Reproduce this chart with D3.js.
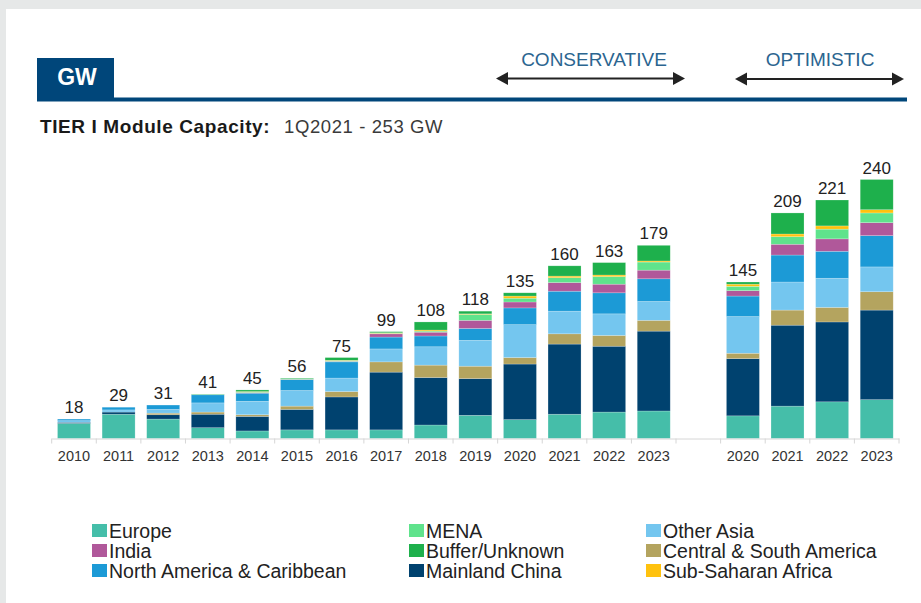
<!DOCTYPE html>
<html>
<head>
<meta charset="utf-8">
<script src="https://cdn.jsdelivr.net/npm/d3@7"></script>
<style>
  html, body { margin: 0; padding: 0; background: #e6e8e8; }
  svg { display: block; }
</style>
</head>
<body>
<svg id="chart" width="921" height="603"></svg>
<script>
// ---------- DATA ----------
const categories = ["2010","2011","2012","2013","2014","2015","2016","2017","2018","2019",
                    "2020c","2021c","2022c","2023c","gap","2020o","2021o","2022o","2023o"];
const tickLabels = ["2010","2011","2012","2013","2014","2015","2016","2017","2018","2019",
                    "2020","2021","2022","2023","","2020","2021","2022","2023"];
const barKeys = categories.filter(c => c !== "gap");
const totals = [18, 29, 31, 41, 45, 56, 75, 99, 108, 118, 135, 160, 163, 179, 145, 209, 221, 240];

// stacked bottom -> top
const seriesNames = ["Europe","Mainland China","Central & South America","Other Asia",
                     "North America & Caribbean","India","MENA","Sub-Saharan Africa","Buffer/Unknown"];
const europe   = [14, 22.5, 18, 10, 7, 8, 8, 8, 12.5, 21.5, 17.5, 22.5, 24.5, 25.5, 21, 30, 34, 36];
const china    = [1, 2, 4, 12.5, 13.5, 19, 30.5, 53.5, 44, 34, 51.5, 65, 61, 74, 53, 75, 74, 83];
const csAmerica= [0, 0, 1.5, 2, 1.5, 3, 5, 9.5, 11.5, 11.5, 6, 9.5, 10, 10, 5, 14, 13.5, 17];
const otherAsia= [1.5, 2, 3.5, 8.5, 12.5, 14.5, 12.5, 12, 17, 24, 30.5, 21, 20, 17.5, 34, 26, 27, 23];
const nAmerica = [1.5, 2.5, 4, 7.5, 7.5, 10, 15, 11, 10, 11, 15.5, 18.5, 19.5, 21, 19, 25, 25, 29];
const india    = [0, 0, 0, 0, 0.5, 0.3, 0.5, 3, 3.5, 7.5, 5.5, 8, 8, 8, 5, 10, 11.5, 12];
const mena     = [0, 0, 0, 0, 0.5, 0.7, 0.5, 0.5, 1, 5.5, 3.5, 4.5, 7, 7.5, 4, 7, 9, 9];
const ssAfrica = [0, 0, 0, 0, 0.5, 0, 0.5, 0.5, 1, 0.5, 2, 1.5, 1.5, 1, 2, 2.5, 3, 3];
const buffer   = [0, 0, 0, 0.5, 1.5, 0.5, 2.5, 1, 7.5, 2.5, 3, 9.5, 11.5, 14.5, 2, 19.5, 24, 28];
const seriesValues = [europe, china, csAmerica, otherAsia, nAmerica, india, mena, ssAfrica, buffer];
const seriesColors = ["#45bea9","#00426f","#b4a45f","#74c6ef","#1c9ad6","#b0589a","#5fe38c","#ffc20e","#1eb04c"];

const legendCols = [
  ["Europe","India","North America & Caribbean"],
  ["MENA","Buffer/Unknown","Mainland China"],
  ["Other Asia","Central & South America","Sub-Saharan Africa"]
];

// ---------- DRAW ----------
const svg = d3.select("#chart");
svg.append("rect").attr("x",0).attr("y",0).attr("width",921).attr("height",603).attr("fill","#e6e8e8");
svg.append("rect").attr("x",6).attr("y",9).attr("width",915).attr("height",594).attr("fill","#ffffff");

const navy = "#00467a";
// header
svg.append("rect").attr("x",37).attr("y",58).attr("width",77).attr("height",42).attr("fill",navy);
svg.append("rect").attr("x",37).attr("y",97.5).attr("width",870).attr("height",4).attr("fill",navy);
svg.append("text").attr("x",77).attr("y",85).attr("text-anchor","middle")
  .attr("font-family","Liberation Sans, Arial, sans-serif").attr("font-weight","bold")
  .attr("font-size",23).attr("fill","#fff").text("GW");

const hdrBlue = "#2b6590";
svg.append("text").attr("x",594).attr("y",66).attr("text-anchor","middle")
  .attr("font-family","Liberation Sans, Arial, sans-serif").attr("font-size",19)
  .attr("fill",hdrBlue).text("CONSERVATIVE");
svg.append("text").attr("x",820).attr("y",66).attr("text-anchor","middle")
  .attr("font-family","Liberation Sans, Arial, sans-serif").attr("font-size",19)
  .attr("fill",hdrBlue).text("OPTIMISTIC");

function arrow(x1, x2, y) {
  const g = svg.append("g").attr("fill","#222").attr("stroke","#222");
  g.append("line").attr("x1",x1+6).attr("x2",x2-6).attr("y1",y).attr("y2",y).attr("stroke-width",2);
  g.append("path").attr("stroke","none").attr("d",`M${x1},${y} L${x1+12},${y-6.5} L${x1+12},${y+6.5} Z`);
  g.append("path").attr("stroke","none").attr("d",`M${x2},${y} L${x2-12},${y-6.5} L${x2-12},${y+6.5} Z`);
}
arrow(496, 685, 78.5);
arrow(735, 904, 79);

svg.append("text").attr("x",40).attr("y",133)
  .attr("font-family","Liberation Sans, Arial, sans-serif").attr("font-size",19)
  .attr("letter-spacing","0.6px").attr("fill","#1a1a1a").attr("font-weight","bold")
  .text("TIER I Module Capacity:");
svg.append("text").attr("x",284).attr("y",133)
  .attr("font-family","Liberation Sans, Arial, sans-serif").attr("font-size",18.5)
  .attr("letter-spacing","0.6px").attr("fill","#3a3a3a")
  .text("1Q2021 - 253 GW");

// scales
const x = d3.scaleBand().domain(categories).range([51.7, 899]).paddingInner(0.26).paddingOuter(0.13);
const y = d3.scaleLinear().domain([0, 240]).range([438.5, 179.5]);

// stack
const rows = barKeys.map((k, i) => {
  const r = { key: k };
  seriesNames.forEach((s, j) => r[s] = seriesValues[j][i]);
  return r;
});
const stacked = d3.stack().keys(seriesNames)(rows);

const gBars = svg.append("g");
gBars.selectAll("g.series").data(stacked).join("g")
  .attr("class","series")
  .attr("fill", (d, i) => seriesColors[i])
  .selectAll("rect").data(d => d).join("rect")
  .attr("x", d => x(d.data.key))
  .attr("width", x.bandwidth())
  .attr("y", d => y(d[1]))
  .attr("height", d => Math.max(0, y(d[0]) - y(d[1])))
  .attr("stroke", "rgba(255,255,255,0.35)")
  .attr("stroke-width", 0.6);

// totals
svg.append("g").selectAll("text").data(barKeys).join("text")
  .attr("x", d => x(d) + x.bandwidth() / 2)
  .attr("y", (d, i) => y(totals[i]) - 6)
  .attr("text-anchor","middle")
  .attr("font-family","Liberation Sans, Arial, sans-serif")
  .attr("font-size",17).attr("fill","#222")
  .text((d, i) => totals[i]);

// x axis
const xAxis = d3.axisBottom(x).tickSize(0).tickPadding(12)
  .tickFormat((d, i) => tickLabels[i]);
const gx = svg.append("g").attr("transform","translate(0,438.5)").call(xAxis);
gx.select(".domain").attr("stroke","#d6d6d6").attr("stroke-width",1);
gx.selectAll("text").attr("font-family","Liberation Sans, Arial, sans-serif")
  .attr("font-size",14.5).attr("fill","#333");
// boundary ticks
const step = x.step();
const boundaries = d3.range(categories.length + 1).map(i => x.range()[0] + i * step);
gx.selectAll("line.btick").data(boundaries).join("line")
  .attr("class","btick")
  .attr("x1", d => d).attr("x2", d => d).attr("y1", 0).attr("y2", 5)
  .attr("stroke","#d6d6d6").attr("stroke-width",1);

// legend
const colX = [92, 409, 646];
const rowY = [524, 544, 564];
legendCols.forEach((col, ci) => {
  col.forEach((name, ri) => {
    const idx = seriesNames.indexOf(name);
    svg.append("rect").attr("x", colX[ci]).attr("y", rowY[ri])
      .attr("width", 15).attr("height", 13).attr("fill", seriesColors[idx]);
    svg.append("text").attr("x", colX[ci] + 17).attr("y", rowY[ri] + 13.5)
      .attr("font-family","Liberation Sans, Arial, sans-serif").attr("font-size",19.5)
      .attr("fill","#222").text(name);
  });
});
</script>
</body>
</html>
